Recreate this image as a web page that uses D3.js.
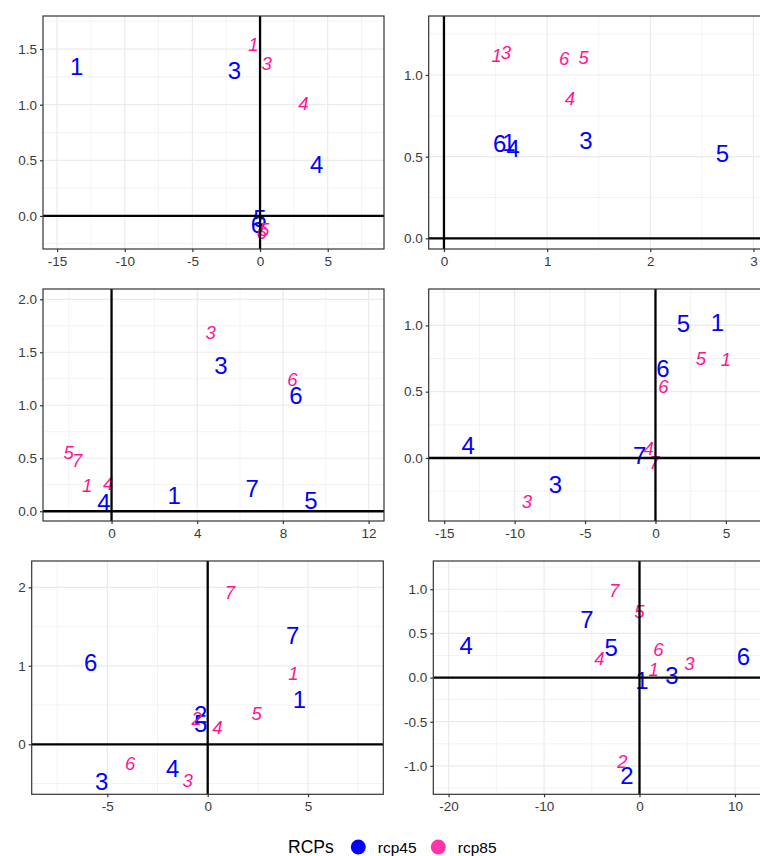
<!DOCTYPE html>
<html>
<head>
<meta charset="utf-8">
<script src="https://cdn.jsdelivr.net/npm/d3@7"></script>
<style>
body{margin:0;background:#fff;}
text{font-family:"Liberation Sans",Arial,sans-serif;}
</style>
</head>
<body>
<div id="canvas"></div>
<script>
// series labels per panel: [label, x, y]
var p1_45 = [["1",-13.55,1.34],["3",-1.9,1.31],["4",4.19,0.46],["5",0.0,-0.02],["6",-0.2,-0.08]];
var p1_85 = [["1",-0.5,1.54],["3",0.49,1.37],["4",3.2,1.01],["5",0.3,-0.12],["6",0.12,-0.15]];

var p2_45 = [["6",0.54,0.58],["1",0.63,0.59],["4",0.67,0.55],["3",1.375,0.60],["5",2.70,0.52]];
var p2_85 = [["1",0.51,1.12],["3",0.6,1.14],["6",1.165,1.10],["5",1.355,1.11],["4",1.22,0.86]];

var p3_45 = [["3",5.11,1.38],["6",8.61,1.095],["1",2.93,0.15],["7",6.57,0.22],["5",9.31,0.106],["4",-0.36,0.08]];
var p3_85 = [["3",4.63,1.69],["6",8.44,1.245],["5",-2.0,0.56],["7",-1.6,0.48],["1",-1.14,0.24],["4",-0.16,0.26]];

var p4_45 = [["5",1.99,1.015],["1",4.4,1.02],["6",0.52,0.676],["4",-13.3,0.098],["7",-1.13,0.023],["3",-7.11,-0.196]];
var p4_85 = [["5",3.22,0.75],["1",5.0,0.74],["6",0.57,0.537],["4",-0.49,0.073],["7",-0.07,-0.035],["3",-9.12,-0.324]];

var p5_45 = [["6",-5.83,1.04],["7",4.24,1.39],["1",4.57,0.57],["2",-0.35,0.38],["5",-0.35,0.27],["3",-5.28,-0.476],["4",-1.74,-0.31]];
var p5_85 = [["7",1.11,1.94],["1",4.27,0.91],["5",2.44,0.39],["4",0.48,0.22],["2",-0.55,0.33],["6",-3.87,-0.24],["3",-1.0,-0.455]];

var p6_45 = [["4",-18.16,0.36],["7",-5.5,0.66],["5",-2.96,0.34],["1",0.25,-0.03],["3",3.39,0.03],["6",10.88,0.24],["2",-1.32,-1.11]];
var p6_85 = [["7",-2.65,0.985],["5",0.0,0.75],["6",1.99,0.325],["4",-4.21,0.22],["1",1.47,0.095],["3",5.23,0.16],["2",-1.78,-0.95]];

// axis breaks
var p1_xt = [-15,-10,-5,0,5],  p1_yt = [0,0.5,1,1.5];
var p2_xt = [0,1,2,3],         p2_yt = [0,0.5,1];
var p3_xt = [0,4,8,12],        p3_yt = [0,0.5,1,1.5,2];
var p4_xt = [-15,-10,-5,0,5],  p4_yt = [0,0.5,1];
var p5_xt = [-5,0,5],          p5_yt = [0,1,2];
var p6_xt = [-20,-10,0,10],    p6_yt = [-1,-0.5,0,0.5,1];

var series = ["rcp45","rcp85"];
var colors = {rcp45:"#0000FF", rcp85:"#FF1493"};

var panels = [
  {l:43,   r:384, t:16,  b:249, xlim:[-16.04,9.16], ylim:[-0.297,1.797], xt:p1_xt, yt:p1_yt, yf:".1f", d45:p1_45, d85:p1_85},
  {l:428.7,r:770, t:16,  b:249, xlim:[-0.148,3.16], ylim:[-0.065,1.361], xt:p2_xt, yt:p2_yt, yf:".1f", d45:p2_45, d85:p2_85},
  {l:43,   r:384, t:289, b:521, xlim:[-3.2,12.72],  ylim:[-0.092,2.097], xt:p3_xt, yt:p3_yt, yf:".1f", d45:p3_45, d85:p3_85},
  {l:428.7,r:770, t:289, b:521, xlim:[-16.1,8.13],  ylim:[-0.475,1.274], xt:p4_xt, yt:p4_yt, yf:".1f", d45:p4_45, d85:p4_85},
  {l:31.7, r:383.3,t:561,b:794.3,xlim:[-8.77,8.75], ylim:[-0.637,2.335], xt:p5_xt, yt:p5_yt, yf:"d",   d45:p5_45, d85:p5_85},
  {l:433.3,r:770, t:561, b:794.3,xlim:[-21.6,13.67],ylim:[-1.322,1.32],  xt:p6_xt, yt:p6_yt, yf:".1f", d45:p6_45, d85:p6_85}
];

var W = 760, H = 856;
var svg = d3.select("#canvas").append("svg")
    .attr("width", W).attr("height", H);

function minors(ticks, lim){
    var step = ticks[1]-ticks[0], out = [];
    for(var v = Math.floor(lim[0]/step)*step + step/2; v <= lim[1]; v += step){
        if(v >= lim[0]) out.push(v);
    }
    return out;
}

panels.forEach(function(p, i){
    var x = d3.scaleLinear().domain(p.xlim).range([p.l, p.r]);
    var y = d3.scaleLinear().domain(p.ylim).range([p.b, p.t]);

    svg.append("clipPath").attr("id","clip"+i)
        .append("rect").attr("x",p.l).attr("y",p.t).attr("width",p.r-p.l).attr("height",p.b-p.t);

    var g = svg.append("g");
    var inner = g.append("g").attr("clip-path","url(#clip"+i+")");

    // minor grid
    inner.selectAll(".mx").data(minors(p.xt,p.xlim)).enter().append("line")
        .attr("x1",function(d){return x(d);}).attr("x2",function(d){return x(d);})
        .attr("y1",p.t).attr("y2",p.b).attr("stroke","#EBEBEB").attr("stroke-width",0.6);
    inner.selectAll(".my").data(minors(p.yt,p.ylim)).enter().append("line")
        .attr("y1",function(d){return y(d);}).attr("y2",function(d){return y(d);})
        .attr("x1",p.l).attr("x2",p.r).attr("stroke","#EBEBEB").attr("stroke-width",0.6);
    // major grid
    inner.selectAll(".gx").data(p.xt).enter().append("line")
        .attr("x1",function(d){return x(d);}).attr("x2",function(d){return x(d);})
        .attr("y1",p.t).attr("y2",p.b).attr("stroke","#EBEBEB").attr("stroke-width",1.2);
    inner.selectAll(".gy").data(p.yt).enter().append("line")
        .attr("y1",function(d){return y(d);}).attr("y2",function(d){return y(d);})
        .attr("x1",p.l).attr("x2",p.r).attr("stroke","#EBEBEB").attr("stroke-width",1.2);

    // labels
    inner.selectAll(".t45").data(p.d45).enter().append("text")
        .attr("x",function(d){return x(d[1]);})
        .attr("y",function(d){return y(d[2]);})
        .attr("dy","0.36em").attr("text-anchor","middle")
        .style("font-size","24px").style("fill",colors.rcp45)
        .text(function(d){return d[0];});
    inner.selectAll(".t85").data(p.d85).enter().append("text")
        .attr("x",function(d){return x(d[1]);})
        .attr("y",function(d){return y(d[2]);})
        .attr("dy","0.36em").attr("text-anchor","middle")
        .style("font-size","18.5px").style("font-style","italic").style("fill",colors.rcp85)
        .text(function(d){return d[0];});

    // zero lines
    inner.append("line").attr("x1",p.l).attr("x2",p.r)
        .attr("y1",y(0)).attr("y2",y(0)).attr("stroke","#000").attr("stroke-width",2.3);
    inner.append("line").attr("x1",x(0)).attr("x2",x(0))
        .attr("y1",p.t).attr("y2",p.b).attr("stroke","#000").attr("stroke-width",2.3);

    // border
    g.append("rect").attr("x",p.l).attr("y",p.t).attr("width",p.r-p.l).attr("height",p.b-p.t)
        .attr("fill","none").attr("stroke","#333333").attr("stroke-width",1.2);

    // axes
    var xa = g.append("g").attr("transform","translate(0,"+p.b+")")
        .call(d3.axisBottom(x).tickValues(p.xt).tickSize(3).tickPadding(4).tickFormat(d3.format("d")));
    var ya = g.append("g").attr("transform","translate("+p.l+",0)")
        .call(d3.axisLeft(y).tickValues(p.yt).tickSize(3).tickPadding(3).tickFormat(d3.format(p.yf)));
    [xa,ya].forEach(function(a){
        a.select(".domain").remove();
        a.selectAll(".tick line").attr("stroke","#333333").attr("stroke-width",1.2);
        a.selectAll(".tick text").attr("fill","#3A3A3A").style("font-size","13.5px")
            .style("font-family","'Liberation Sans',Arial,sans-serif");
    });
    ya.selectAll(".tick text").text(function(d){ return d3.format(p.yf)(d).replace("\u2212","-"); });
    xa.selectAll(".tick text").text(function(d){ return String(d); });
});

// legend
var leg = svg.append("g").attr("transform","translate(0,847)");
leg.append("text").attr("x",288).attr("y",0).attr("dy","0.36em")
    .style("font-size","17.5px").style("fill","#000").text("RCPs");
var legX = d3.scalePoint().domain(series).range([358.3,438.3]);
series.forEach(function(s){
    leg.append("circle").attr("cx",legX(s)).attr("cy",0).attr("r",7.5)
        .attr("fill", s=="rcp45" ? "#0000FF" : "#FF33AA");
    leg.append("text").attr("x",legX(s)+19.5).attr("y",0).attr("dy","0.36em")
        .style("font-size","15.5px").style("fill","#000").text(s);
});
</script>
</body>
</html>
